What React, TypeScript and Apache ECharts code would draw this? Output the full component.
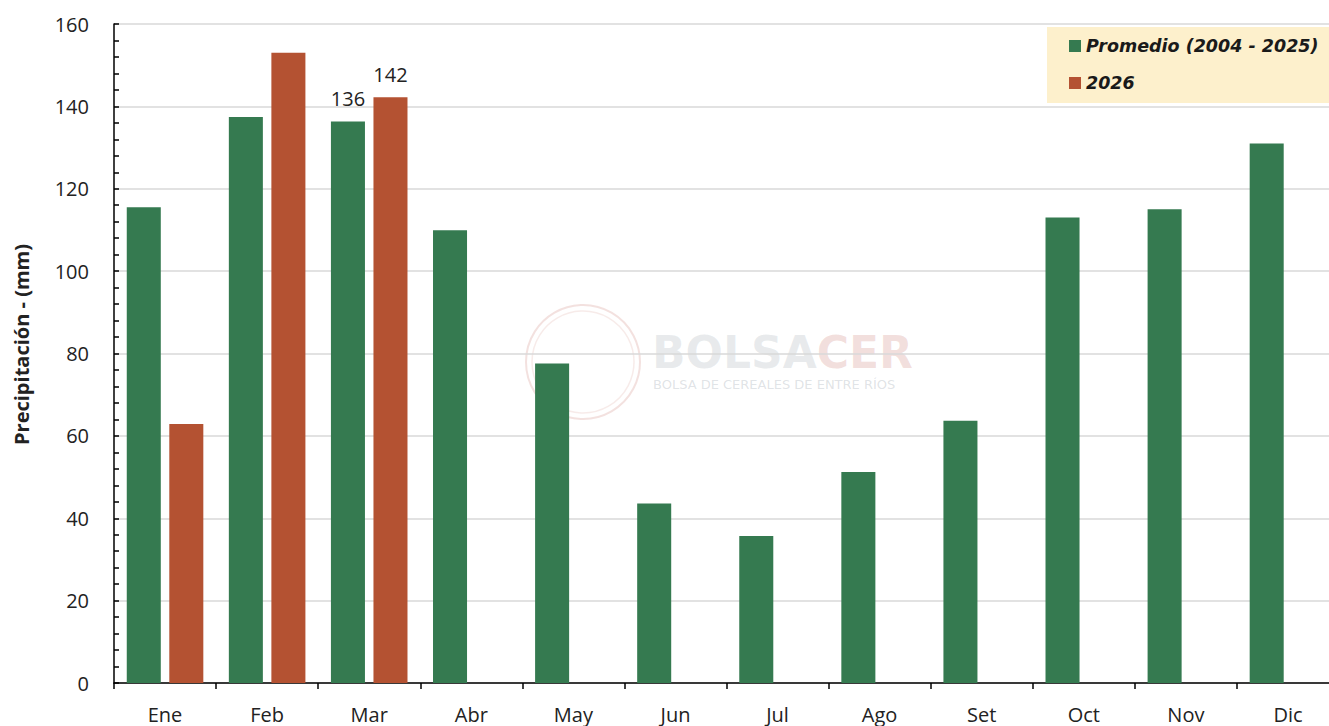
import React, { useEffect, useRef } from "react";
import * as echarts from "echarts";

const months = ["Ene", "Feb", "Mar", "Abr", "May", "Jun", "Jul", "Ago", "Set", "Oct", "Nov", "Dic"];
const promedio = [115.5, 137.4, 136.3, 109.9, 77.6, 43.6, 35.7, 51.2, 63.7, 113.0, 115.0, 131.0];
const year2026 = [62.9, 153.0, 142.2, null, null, null, null, null, null, null, null, null];
const labeledMonths = ["Mar"];
const yTicks = { min: 0, max: 160, interval: 20 };

const FONT = "'Open Sans', sans-serif";

export default function App() {
  const ref = useRef<HTMLDivElement>(null);
  useEffect(() => {
    document.body.style.margin = "0";
    document.body.style.overflow = "hidden";
    const chart = echarts.init(ref.current!, null, { renderer: "svg" });
    const withLabels = (arr: (number | null)[]) =>
      arr.map((v, i) =>
        labeledMonths.includes(months[i]) && v != null
          ? { value: v, label: { show: true, formatter: () => String(Math.round(v)) } }
          : v
      );
    const labelStyle = { show: false, position: "top", distance: 13, fontSize: 20, color: "#222", fontFamily: FONT };
    chart.setOption({
      animation: false,
      backgroundColor: "#ffffff",
      textStyle: { fontFamily: FONT },
      grid: { left: 114, top: 24, bottom: 43, width: 1225, containLabel: false },
      legend: {
        orient: "vertical",
        left: 1047,
        top: 27,
        backgroundColor: "#fdf0cc",
        padding: [8, 60, 9, 22],
        itemGap: 15,
        itemWidth: 12,
        itemHeight: 12,
        icon: "rect",
        textStyle: {
          fontFamily: "'DejaVu Sans', sans-serif",
          fontSize: 17.5,
          fontWeight: "bold",
          fontStyle: "italic",
          color: "#1a1a1a",
          lineHeight: 22,
        },
        data: ["Promedio (2004 - 2025)", "2026"],
      },
      xAxis: {
        type: "category",
        data: months,
        axisLine: { show: true, lineStyle: { color: "#000", width: 1.5 } },
        axisTick: { show: true, alignWithLabel: false, length: 6, lineStyle: { color: "#000", width: 1.5 } },
        axisLabel: { fontSize: 20, lineHeight: 20, color: "#222", margin: 21, fontFamily: FONT },
        splitLine: { show: false },
      },
      yAxis: {
        type: "value",
        min: yTicks.min,
        max: yTicks.max,
        interval: yTicks.interval,
        name: "Precipitación - (mm)",
        nameLocation: "middle",
        nameGap: 83,
        nameRotate: 90,
        nameTextStyle: { fontSize: 20, fontWeight: "bold", color: "#222", fontFamily: FONT, padding: [0, 0, 0, 18] },
        axisLine: { show: true, lineStyle: { color: "#000", width: 1.5 } },
        axisTick: { show: true, inside: true, length: 5, lineStyle: { color: "#000", width: 1.5 } },
        minorTick: { show: true, splitNumber: 5, length: 5, lineStyle: { color: "#000", width: 1.5 } },
        axisLabel: { fontSize: 20, color: "#222", margin: 25, fontFamily: FONT },
        splitLine: { show: true, lineStyle: { color: "#d9d9d9", width: 1.5 } },
      },
      series: [
        {
          name: "Promedio (2004 - 2025)",
          type: "bar",
          data: withLabels(promedio),
          barGap: "25%",
          barCategoryGap: "25%",
          itemStyle: { color: "#357a50" },
          label: labelStyle,
        },
        {
          name: "2026",
          type: "bar",
          data: withLabels(year2026),
          barGap: "25%",
          barCategoryGap: "25%",
          itemStyle: { color: "#b45232" },
          label: labelStyle,
        },
      ],
      graphic: [
        {
          type: "group",
          z: 100,
          silent: true,
          children: [
            {
              type: "circle",
              shape: { cx: 583, cy: 362, r: 57 },
              style: { fill: "none", stroke: "rgba(200,120,110,0.22)", lineWidth: 2 },
            },
            {
              type: "circle",
              shape: { cx: 583, cy: 362, r: 51 },
              style: { fill: "none", stroke: "rgba(200,120,110,0.15)", lineWidth: 1.5 },
            },
            {
              type: "text",
              x: 652,
              y: 352,
              style: {
                text: "{a|BOLSA}{b|CER}",
                verticalAlign: "middle",
                rich: {
                  a: { font: "bold 44px 'DejaVu Sans', sans-serif", fill: "rgba(150,160,170,0.22)" },
                  b: { font: "bold 44px 'DejaVu Sans', sans-serif", fill: "rgba(200,110,100,0.22)" },
                },
              },
            },
            {
              type: "text",
              x: 653,
              y: 384,
              style: {
                text: "BOLSA DE CEREALES DE ENTRE RÍOS",
                font: "13px 'DejaVu Sans', sans-serif",
                fill: "rgba(150,160,170,0.3)",
                verticalAlign: "middle",
              },
            },
          ],
        },
      ],
    });
    return () => chart.dispose();
  }, []);
  return (
    <div style={{ width: 1329, height: 726, overflow: "hidden" }}>
      <div ref={ref} style={{ width: 1345, height: 726 }} />
    </div>
  );
}
